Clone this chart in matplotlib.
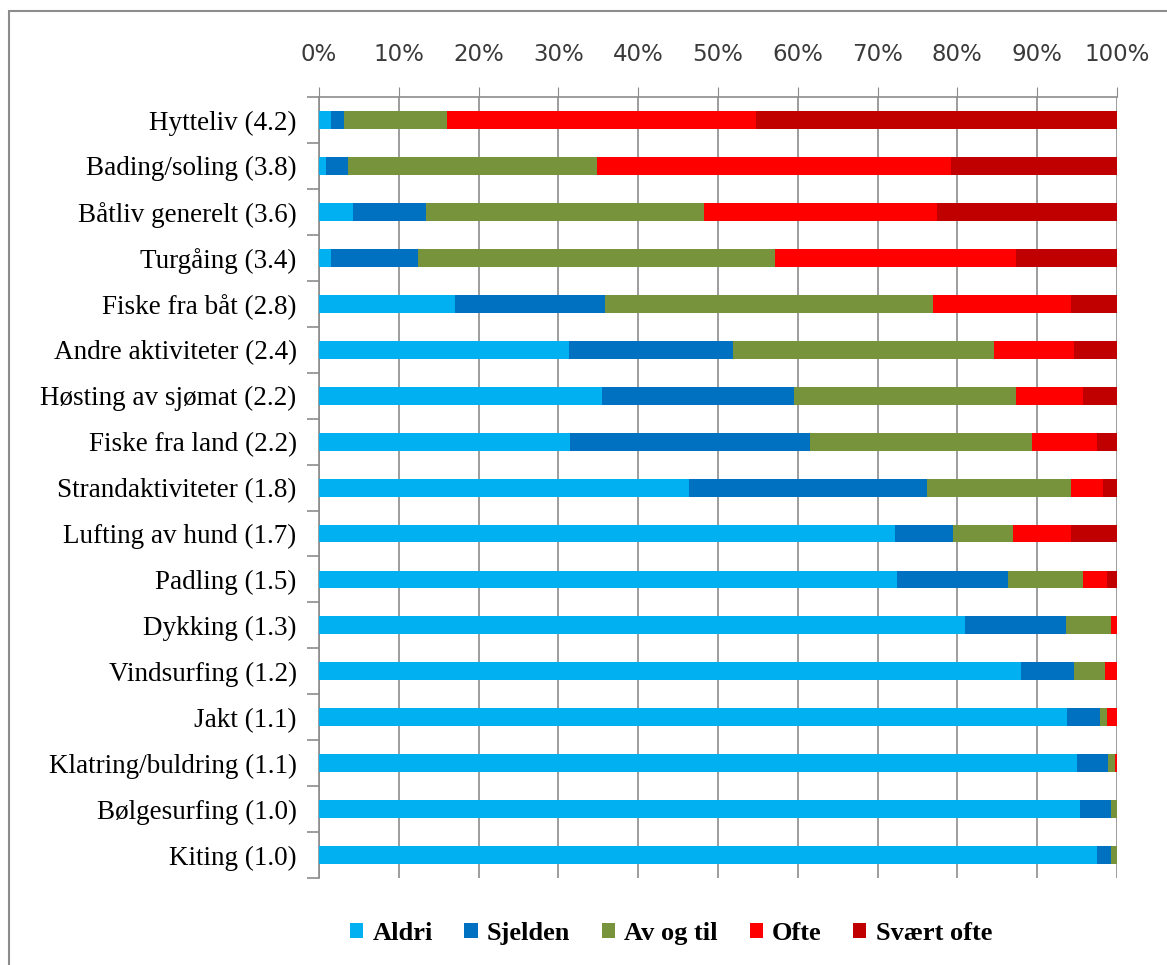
import matplotlib.pyplot as plt
from matplotlib.patches import Rectangle
from matplotlib.ticker import PercentFormatter

categories = [
    "Hytteliv (4.2)", "Bading/soling (3.8)", "Båtliv generelt (3.6)", "Turgåing (3.4)",
    "Fiske fra båt (2.8)", "Andre aktiviteter (2.4)", "Høsting av sjømat (2.2)",
    "Fiske fra land (2.2)", "Strandaktiviteter (1.8)", "Lufting av hund (1.7)",
    "Padling (1.5)", "Dykking (1.3)", "Vindsurfing (1.2)", "Jakt (1.1)",
    "Klatring/buldring (1.1)", "Bølgesurfing (1.0)", "Kiting (1.0)",
]

aldri = [1.5, 0.9, 4.3, 1.5, 17.0, 31.3, 35.5, 31.5, 46.4, 72.2, 72.5, 80.9, 88.0, 93.7, 95.0, 95.4, 97.5]
sjelden = [1.6, 2.7, 9.1, 10.9, 18.8, 20.6, 24.0, 30.0, 29.8, 7.3, 13.8, 12.7, 6.6, 4.2, 3.9, 3.8, 1.7]
av_og_til = [12.9, 31.2, 34.8, 44.8, 41.2, 32.7, 27.9, 27.9, 18.0, 7.5, 9.5, 5.6, 3.9, 0.9, 0.8, 0.8, 0.8]
ofte = [38.8, 44.4, 29.3, 30.1, 17.2, 10.0, 8.4, 8.1, 4.1, 7.2, 2.9, 0.8, 1.5, 1.2, 0.3, 0.0, 0.0]
svaert_ofte = [45.2, 20.8, 22.5, 12.7, 5.8, 5.4, 4.2, 2.5, 1.7, 5.8, 1.3, 0.0, 0.0, 0.0, 0.0, 0.0, 0.0]

series = [
    ("Aldri", aldri, "#00b0f0"),
    ("Sjelden", sjelden, "#0070c0"),
    ("Av og til", av_og_til, "#77933c"),
    ("Ofte", ofte, "#ff0000"),
    ("Svært ofte", svaert_ofte, "#c00000"),
]

fig = plt.figure(figsize=(11.67, 9.65), dpi=100)
ax = fig.add_axes([0.2733, 0.090, 0.6838, 0.8095])

# outer chart frame
fig.patches.append(Rectangle((9 / 1167, -0.01), 1.02, 1 - 11 / 965 + 0.01,
                             transform=fig.transFigure, fill=False,
                             edgecolor="#8c8c8c", linewidth=1.5))

y = list(range(len(categories)))
left = [0.0] * len(categories)
for name, vals, color in series:
    ax.barh(y, vals, left=left, height=0.39, color=color, label=name, zorder=3)
    left = [l + v for l, v in zip(left, vals)]

ax.set_xlim(0, 100)
ax.set_ylim(len(categories) - 0.5, -0.5)
ax.set_xticks(range(0, 101, 10))
ax.xaxis.set_major_formatter(PercentFormatter(decimals=0))
ax.xaxis.tick_top()
ax.tick_params(axis="x", length=7, color="#8c8c8c", pad=15, labelsize=16.5,
               labelcolor="#3a3a3a")
ax.grid(axis="x", color="#8c8c8c", linewidth=1.2, zorder=0)

ax.set_yticks(y)
ax.set_yticklabels(categories, family="Liberation Serif", fontsize=19.5)
ax.set_yticks([i - 0.5 for i in range(len(categories) + 1)], minor=True)
ax.tick_params(axis="y", which="major", length=0, pad=16)
ax.tick_params(axis="y", which="minor", length=9, color="#8c8c8c", width=1.2)

for side in ["right", "bottom"]:
    ax.spines[side].set_visible(False)
for side in ["left", "top"]:
    ax.spines[side].set_color("#8c8c8c")
    ax.spines[side].set_linewidth(1.2)

ax.legend(loc="center", bbox_to_anchor=(0.575, 0.033), bbox_transform=fig.transFigure,
          ncol=5, frameon=False,
          prop={"family": "Liberation Serif", "weight": "bold", "size": 19},
          handlelength=0.5, handleheight=0.5, handletextpad=0.35, columnspacing=1.2)

fig.savefig("out.png", dpi=100)
